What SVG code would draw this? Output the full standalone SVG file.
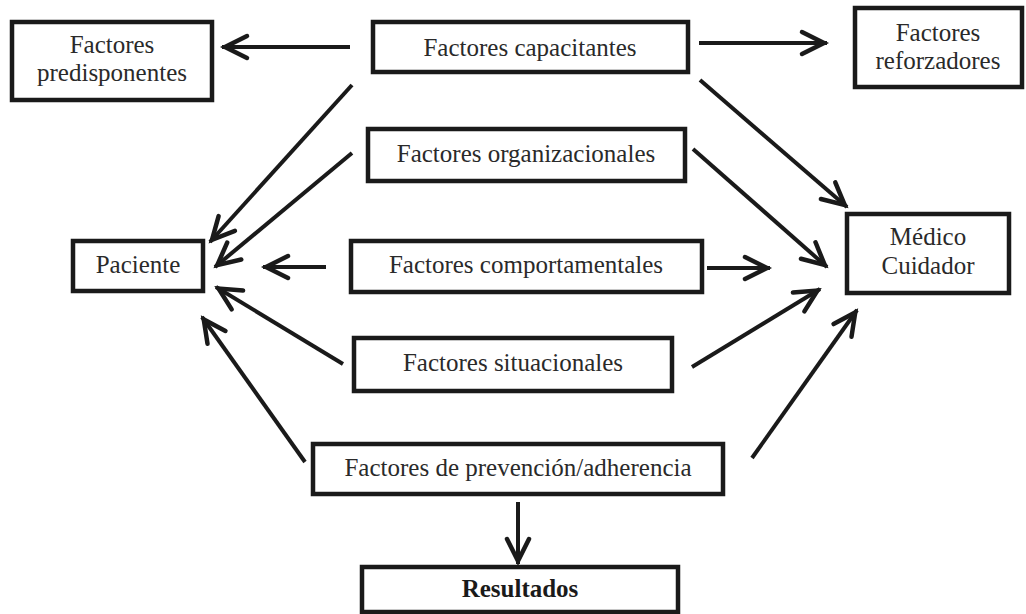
<svg xmlns="http://www.w3.org/2000/svg" width="1026" height="614" viewBox="0 0 1026 614">
<defs>
<style>
.box{fill:#fff;stroke:#1a1a1a;stroke-width:4.5}
.t{font-family:"Liberation Serif","Times New Roman",serif;font-size:25px;fill:#2a2a2a;text-anchor:middle}
.b{font-weight:bold;fill:#1a1a1a}
.c line{stroke:#1a1a1a;stroke-width:4;fill:none;marker-end:url(#ah)}
</style>
<marker id="ah" markerUnits="userSpaceOnUse" viewBox="-30 -20 40 40" refX="0" refY="0" markerWidth="40" markerHeight="40" orient="auto" overflow="visible">
<path d="M-25,-11 L-3,0 L-25,11" fill="none" stroke="#1a1a1a" stroke-width="4.5" stroke-linejoin="miter" stroke-linecap="round"/>
</marker>
</defs>
<rect width="1026" height="614" fill="#fff"/>
<g class="c" id="connectors">
<line x1="350" y1="47" x2="222" y2="47"/>
<line x1="699" y1="43" x2="827" y2="43"/>
<line x1="352" y1="85" x2="210" y2="242"/>
<line x1="352" y1="153" x2="215" y2="267"/>
<line x1="326" y1="267" x2="263" y2="267"/>
<line x1="343" y1="364" x2="216" y2="287"/>
<line x1="305" y1="462" x2="202" y2="317"/>
<line x1="700" y1="80" x2="847" y2="207"/>
<line x1="693" y1="149" x2="827" y2="267"/>
<line x1="707" y1="268" x2="770" y2="268"/>
<line x1="692" y1="367" x2="820" y2="289"/>
<line x1="752" y1="458" x2="857" y2="310"/>
<line x1="518" y1="502" x2="518" y2="564"/>
</g>
<g id="predisponentes">
<rect class="box" x="12" y="22" width="200" height="78"/>
<text class="t" x="112" y="53">Factores</text>
<text class="t" x="112" y="81">predisponentes</text>
</g>
<g id="capacitantes">
<rect class="box" x="373" y="22" width="315" height="50"/>
<text class="t" x="530" y="56">Factores capacitantes</text>
</g>
<g id="reforzadores">
<rect class="box" x="855" y="8" width="167" height="79"/>
<text class="t" x="938" y="41">Factores</text>
<text class="t" x="938" y="69">reforzadores</text>
</g>
<g id="organizacionales">
<rect class="box" x="368" y="129" width="317" height="52"/>
<text class="t" x="526" y="162">Factores organizacionales</text>
</g>
<g id="paciente">
<rect class="box" x="73" y="241" width="130" height="50"/>
<text class="t" x="138" y="273">Paciente</text>
</g>
<g id="comportamentales">
<rect class="box" x="351" y="241" width="351" height="51"/>
<text class="t" x="526" y="273">Factores comportamentales</text>
</g>
<g id="medico">
<rect class="box" x="847" y="214" width="162" height="79"/>
<text class="t" x="928" y="245">Médico</text>
<text class="t" x="928" y="274">Cuidador</text>
</g>
<g id="situacionales">
<rect class="box" x="354" y="338" width="318" height="53"/>
<text class="t" x="513" y="371">Factores situacionales</text>
</g>
<g id="prevencion">
<rect class="box" x="313" y="444" width="410" height="50"/>
<text class="t" x="518" y="476">Factores de prevención/adherencia</text>
</g>
<g id="resultados">
<rect class="box" x="362" y="567" width="316" height="45"/>
<text class="t b" x="520" y="597">Resultados</text>
</g>
</svg>
